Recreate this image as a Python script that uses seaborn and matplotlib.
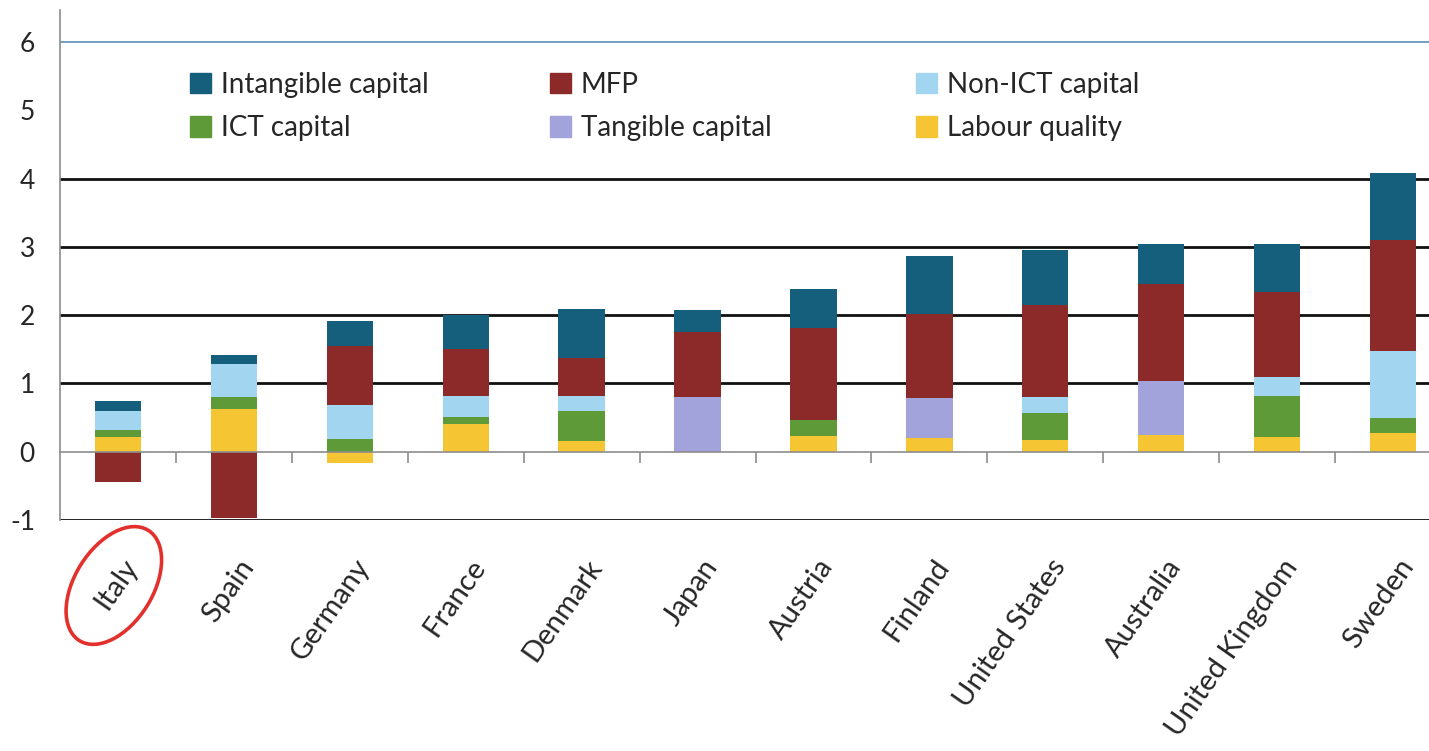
import numpy as np
import pandas as pd
import matplotlib.pyplot as plt
import seaborn as sns
from matplotlib.patches import Patch, Ellipse
from matplotlib.transforms import IdentityTransform, ScaledTranslation

countries = ['Italy', 'Spain', 'Germany', 'France', 'Denmark', 'Japan', 'Austria',
             'Finland', 'United States', 'Australia', 'United Kingdom', 'Sweden']

labour_quality = [0.22, 0.62, -0.17, 0.40, 0.16, 0.00, 0.23, 0.20, 0.17, 0.24, 0.21, 0.28]
ict_capital = [0.10, 0.18, 0.19, 0.11, 0.43, 0.00, 0.24, 0.00, 0.40, 0.00, 0.60, 0.22]
tangible_capital = [0.00, 0.00, 0.00, 0.00, 0.00, 0.80, 0.00, 0.58, 0.00, 0.80, 0.00, 0.00]
non_ict_capital = [0.28, 0.48, 0.49, 0.30, 0.23, 0.00, 0.00, 0.00, 0.23, 0.00, 0.28, 0.97]
mfp = [-0.45, -0.97, 0.87, 0.69, 0.55, 0.95, 1.34, 1.23, 1.35, 1.42, 1.25, 1.63]
intangible_capital = [0.14, 0.14, 0.37, 0.50, 0.72, 0.32, 0.57, 0.86, 0.80, 0.58, 0.70, 0.98]

# stacking order, bottom to top
series = [
    ('Labour quality', labour_quality, '#f5c533'),
    ('ICT capital', ict_capital, '#5e9a37'),
    ('Tangible capital', tangible_capital, '#a3a3dc'),
    ('Non-ICT capital', non_ict_capital, '#a2d6f0'),
    ('MFP', mfp, '#8c2a2a'),
    ('Intangible capital', intangible_capital, '#155f7c'),
]
colors = {name: col for name, _, col in series}

sns.set_style('white')
plt.rcParams['font.family'] = ['Lato', 'DejaVu Sans']
plt.rcParams['axes.unicode_minus'] = False

W, H = 1429, 751
fig = plt.figure(figsize=(W / 100, H / 100), dpi=100)
ax = fig.add_axes([60 / W, 231 / H, 1391 / W, 510 / H])

# cumulative stacks, drawn outer first so inner layers sit on top
vals = np.array([s[1] for s in series])
pos = np.cumsum(np.clip(vals, 0, None), axis=0)
neg = np.cumsum(np.clip(vals, None, 0), axis=0)
for i in range(len(series) - 1, -1, -1):
    col = series[i][2]
    for cum in (pos[i], neg[i]):
        df = pd.DataFrame({'country': countries, 'value': cum})
        sns.barplot(data=df, x='country', y='value', color=col, saturation=1,
                    width=0.4, ax=ax, order=countries, errorbar=None,
                    linewidth=0, edgecolor='none')

ax.set_xlim(-0.5, 11.5)
ax.set_ylim(-1, 6.47)
ax.set_xlabel('')
ax.set_ylabel('')

for y in [-1, 1, 2, 3, 4]:
    ax.axhline(y, color='#111111', lw=2, zorder=0)
ax.axhline(6, color='#5a8fb8', lw=1.2, zorder=0)

for s in ['top', 'right']:
    ax.spines[s].set_visible(False)
ax.spines['left'].set_color('#8c8c8c')
ax.spines['left'].set_linewidth(1.2)
ax.spines['bottom'].set_position(('data', 0))
ax.spines['bottom'].set_color('#8c8c8c')
ax.spines['bottom'].set_linewidth(1.2)

ax.set_yticks(range(-1, 7))
ax.tick_params(axis='y', direction='out', length=6, width=1.2, color='#8c8c8c',
               labelsize=19, pad=12)
ax.set_xticks(range(len(countries)))
ax.set_xticklabels(countries, rotation=55, ha='right', rotation_mode='anchor')
ax.set_xticks(np.arange(0.5, 11.5, 1), minor=True)
ax.tick_params(axis='x', which='major', length=0, labelsize=21, pad=74)
ax.tick_params(axis='x', which='minor', direction='out', length=8, width=1.2,
               color='#8c8c8c', bottom=True)
shift = ScaledTranslation(4 / 100, 0, fig.dpi_scale_trans)
for lab in ax.get_xticklabels():
    lab.set_transform(lab.get_transform() + shift)

# legend in three columns placed like the original
legend_cols = [
    (190, ['Intangible capital', 'ICT capital']),
    (550, ['MFP', 'Tangible capital']),
    (916, ['Non-ICT capital', 'Labour quality']),
]
for x_px, names in legend_cols:
    fig.legend([Patch(color=colors[n]) for n in names], names,
               loc='upper left', bbox_to_anchor=(x_px / W, 1 - 72 / H),
               frameon=False, fontsize=20, borderpad=0, borderaxespad=0,
               handlelength=0.75, handleheight=0.75, handletextpad=0.35,
               labelspacing=0.62)

# red circle round the Italy label
fig.canvas.draw()
bb = ax.get_xticklabels()[0].get_window_extent()
cx, cy = (bb.x0 + bb.x1) / 2, (bb.y0 + bb.y1) / 2
fig.add_artist(Ellipse((cx - 3, cy - 1), 130, 78, angle=58, fill=False,
                       edgecolor='#e3302c', lw=2.6, transform=IdentityTransform()))

plt.savefig('out.png', dpi=100)
